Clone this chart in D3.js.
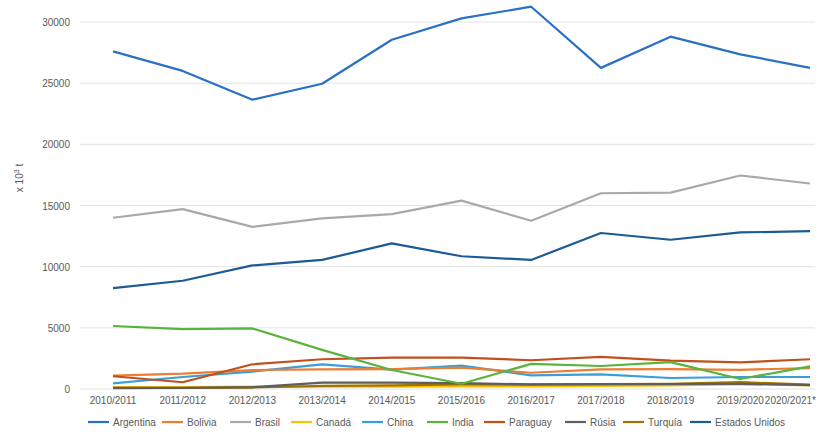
<!DOCTYPE html><html><head><meta charset="utf-8"><script src="https://cdn.jsdelivr.net/npm/d3@7"></script>
<style>body{margin:0;background:#fff}text{font-family:"Liberation Sans",Arial,sans-serif}</style></head><body><svg id="c" width="820" height="438"></svg><script>
const categories=["2010/2011","2011/2012","2012/2013","2013/2014","2014/2015","2015/2016","2016/2017","2017/2018","2018/2019","2019/2020","2020/2021*"];
const seriesNames=["Argentina","Bolivia","Brasil","Canadá","China","India","Paraguay","Rúsia","Turquía","Estados Unidos"];
const argentina=[27600,26000,23650,24950,28550,30300,31250,26250,28800,27350,26250];
const bolivia=[1090,1250,1550,1600,1620,1740,1330,1600,1620,1570,1710];
const brasil=[14000,14700,13250,13950,14300,15400,13750,16000,16050,17450,16800];
const canada=[150,150,200,200,200,220,220,250,300,400,300];
const china=[460,980,1420,2020,1580,1910,1120,1200,900,980,980];
const india=[5150,4900,4950,3200,1550,430,2050,1880,2200,820,1850];
const paraguay=[1040,550,2020,2430,2560,2560,2350,2620,2320,2180,2430];
const rusia=[100,100,150,520,520,480,380,400,400,420,320];
const turquia=[60,80,120,250,300,380,350,400,420,560,360];
const eeuu=[8250,8850,10100,10550,11900,10850,10550,12750,12200,12800,12900];
const yTicks=[0,5000,10000,15000,20000,25000,30000];
const colors=["#2a70c4","#ee7d31","#a9a9a9","#ffc000","#3a9fd9","#59b33c","#c2501c","#5e5e5e","#9c7400","#1d5b94"];
const values=[argentina,bolivia,brasil,canada,china,india,paraguay,rusia,turquia,eeuu];
const svg=d3.select("#c");
const x=d3.scalePoint().domain(categories).range([113,810]);
const y=d3.scaleLinear().domain([0,30000]).range([389,22]);
svg.append("g").selectAll("line").data(yTicks).join("line").attr("x1",80).attr("x2",815).attr("y1",d=>y(d)).attr("y2",d=>y(d)).attr("stroke","#e3e3e3");
svg.append("g").selectAll("text").data(yTicks).join("text").attr("x",70).attr("y",d=>y(d)+4).attr("text-anchor","end").attr("font-size",10).attr("fill","#595959").text(d=>d);
const last=categories[categories.length-1];
svg.append("g").selectAll("text").data(categories).join("text").attr("x",d=>d===last?816:x(d)).attr("y",404).attr("text-anchor",d=>d===last?"end":"middle").attr("font-size",10).attr("fill","#595959").text(d=>d);
svg.append("text").attr("transform","translate(23,178) rotate(-90)").attr("text-anchor","middle").attr("font-size",10).attr("fill","#595959").html('x 10<tspan dy="-4" font-size="7">3</tspan><tspan dy="4"> t</tspan>');
const line=d3.line().x((d,i)=>x(categories[i])).y(d=>y(d));
const order=[3,8,7,4,1,6,5,9,2,0];
order.forEach(i=>svg.append("path").attr("d",line(values[i])).attr("fill","none").attr("stroke",colors[i]).attr("stroke-width",2.2).attr("stroke-linejoin","round"));
const lx=[88,162,230,291,362,427,484,565,623,690];
seriesNames.forEach((n,i)=>{const g=svg.append("g").attr("transform",`translate(${lx[i]},422)`);
g.append("line").attr("x1",0).attr("x2",21).attr("stroke",colors[i]).attr("stroke-width",2.2);
g.append("text").attr("x",25).attr("y",4).attr("font-size",10).attr("fill","#595959").text(n);});
</script></body></html>
